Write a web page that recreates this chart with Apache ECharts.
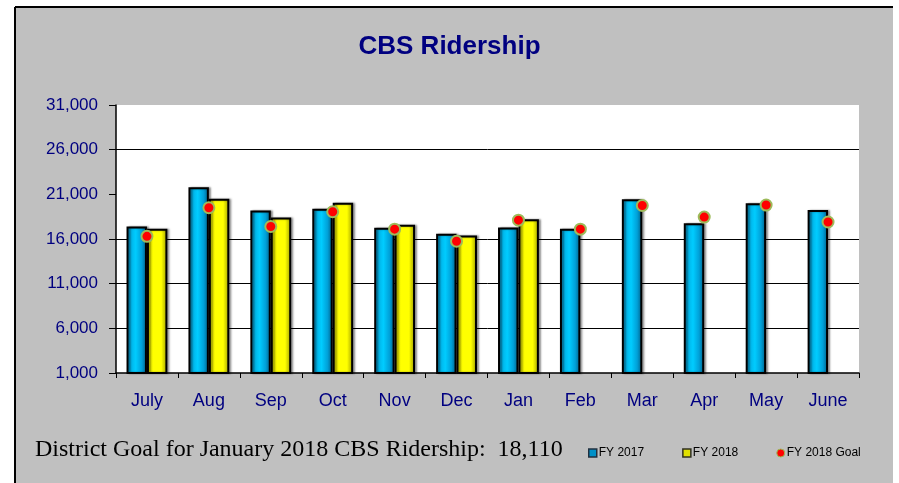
<!DOCTYPE html>
<html>
<head>
<meta charset="utf-8">
<script src="https://cdn.jsdelivr.net/npm/echarts@6/dist/echarts.min.js"></script>
<style>
  html, body { margin: 0; padding: 0; background: #ffffff; }
  #chart { width: 899px; height: 483px; }
</style>
</head>
<body>
<div id="chart"></div>
<script>
const categories = ['July', 'Aug', 'Sep', 'Oct', 'Nov', 'Dec', 'Jan', 'Feb', 'Mar', 'Apr', 'May', 'June'];
const fy2017 = [17400, 21800, 19200, 19400, 17250, 16600, 17300, 17150, 20450, 17750, 20000, 19250];
const fy2018 = [17150, 20500, 18400, 20050, 17600, 16400, 18200, null, null, null, null, null];
const fy2018Goal = [16300, 19500, 17400, 19050, 17100, 15750, 18110, 17100, 19750, 18450, 19800, 17900];
const yTicks = [1000, 6000, 11000, 16000, 21000, 26000, 31000];
const gridLineValues = [6000, 11000, 16000, 26000];

const chart = echarts.init(document.getElementById('chart'));
const FONT = '"Liberation Sans", Arial, sans-serif';
const NAVY = '#000080';

const blueFill = new echarts.graphic.LinearGradient(0, 0, 1, 0, [
  { offset: 0, color: '#0a78a8' },
  { offset: 0.25, color: '#00b8ec' },
  { offset: 0.45, color: '#00ccff' },
  { offset: 0.75, color: '#00a0d8' },
  { offset: 1, color: '#005a80' }
]);
const yellowFill = new echarts.graphic.LinearGradient(0, 0, 1, 0, [
  { offset: 0, color: '#c8c800' },
  { offset: 0.3, color: '#ffff00' },
  { offset: 0.7, color: '#ffff00' },
  { offset: 1, color: '#9a9a00' }
]);

const option = {
  backgroundColor: '#ffffff',
  animation: false,
  graphic: [
    { type: 'rect', z: -10, shape: { x: 15, y: 7, width: 878, height: 480 }, style: { fill: '#c0c0c0' } },
    { type: 'line', z: -9, shape: { x1: 15, y1: 7, x2: 893, y2: 7 }, style: { stroke: '#000', lineWidth: 2 } },
    { type: 'line', z: -9, shape: { x1: 15, y1: 7, x2: 15, y2: 483 }, style: { stroke: '#000', lineWidth: 2 } },
    { type: 'text', left: 35, top: 438, style: { text: 'District Goal for January 2018 CBS Ridership:  18,110', font: '24px "Liberation Serif", "Times New Roman", serif', fill: '#000' } }
  ],
  title: {
    text: 'CBS Ridership',
    left: 'center',
    top: 29,
    textStyle: { color: NAVY, fontFamily: FONT, fontWeight: 'bold', fontSize: 26 }
  },
  legend: {
    left: 583,
    top: 442,
    itemWidth: 8,
    itemHeight: 8,
    itemGap: 38,
    textStyle: { fontFamily: FONT, fontSize: 12, color: '#000', padding: [0, 0, 0, -3] },
    data: [
      { name: 'FY 2017', icon: 'rect', itemStyle: { color: '#0090c8', borderColor: '#203040', borderWidth: 1.5 } },
      { name: 'FY 2018', icon: 'rect', itemStyle: { color: '#e0e000', borderColor: '#303020', borderWidth: 1.5 } },
      { name: 'FY 2018 Goal', icon: 'circle', itemStyle: { color: '#ff0000', borderColor: '#99bb55', borderWidth: 1 } }
    ]
  },
  grid: {
    left: 116, right: 40, top: 105, bottom: 110,
    show: true, backgroundColor: '#ffffff', borderWidth: 0
  },
  xAxis: {
    type: 'category',
    data: categories,
    boundaryGap: true,
    axisLine: { lineStyle: { color: '#000', width: 1.5 } },
    axisTick: { show: true, inside: false, length: 5, lineStyle: { color: '#000' } },
    axisLabel: { color: NAVY, fontFamily: FONT, fontSize: 18, margin: 19 }
  },
  yAxis: {
    type: 'value',
    min: yTicks[0],
    max: yTicks[yTicks.length - 1],
    interval: 5000,
    axisLine: { show: true, lineStyle: { color: '#000', width: 1.5 } },
    axisTick: { show: true, inside: false, length: 7, lineStyle: { color: '#000' } },
    axisLabel: {
      color: NAVY, fontFamily: FONT, fontSize: 17, margin: 18,
      formatter: v => v.toLocaleString('en-US')
    },
    splitLine: { show: false }
  },
  series: [
    {
      name: 'FY 2017', type: 'bar', data: fy2017,
      barGap: '0%', barCategoryGap: '34%',
      itemStyle: { color: blueFill, borderColor: '#000', borderWidth: 2, shadowColor: 'rgba(0,0,0,0.35)', shadowBlur: 2, shadowOffsetX: 2 },
      markLine: {
        z: 1,
        silent: true,
        symbol: 'none',
        label: { show: false },
        lineStyle: { color: '#000', width: 1, type: 'solid' },
        data: gridLineValues.map(v => ({ yAxis: v }))
      }
    },
    {
      name: 'FY 2018', type: 'bar', data: fy2018,
      barGap: '0%', barCategoryGap: '34%',
      itemStyle: { color: yellowFill, borderColor: '#000', borderWidth: 2, shadowColor: 'rgba(0,0,0,0.35)', shadowBlur: 2, shadowOffsetX: 2 }
    },
    {
      name: 'FY 2018 Goal', type: 'scatter', data: fy2018Goal,
      symbol: 'circle', symbolSize: 11, z: 5,
      itemStyle: { color: '#ff0000', borderColor: '#9dbb5a', borderWidth: 2, opacity: 1 }
    }
  ]
};
chart.setOption(option);
</script>
</body>
</html>
